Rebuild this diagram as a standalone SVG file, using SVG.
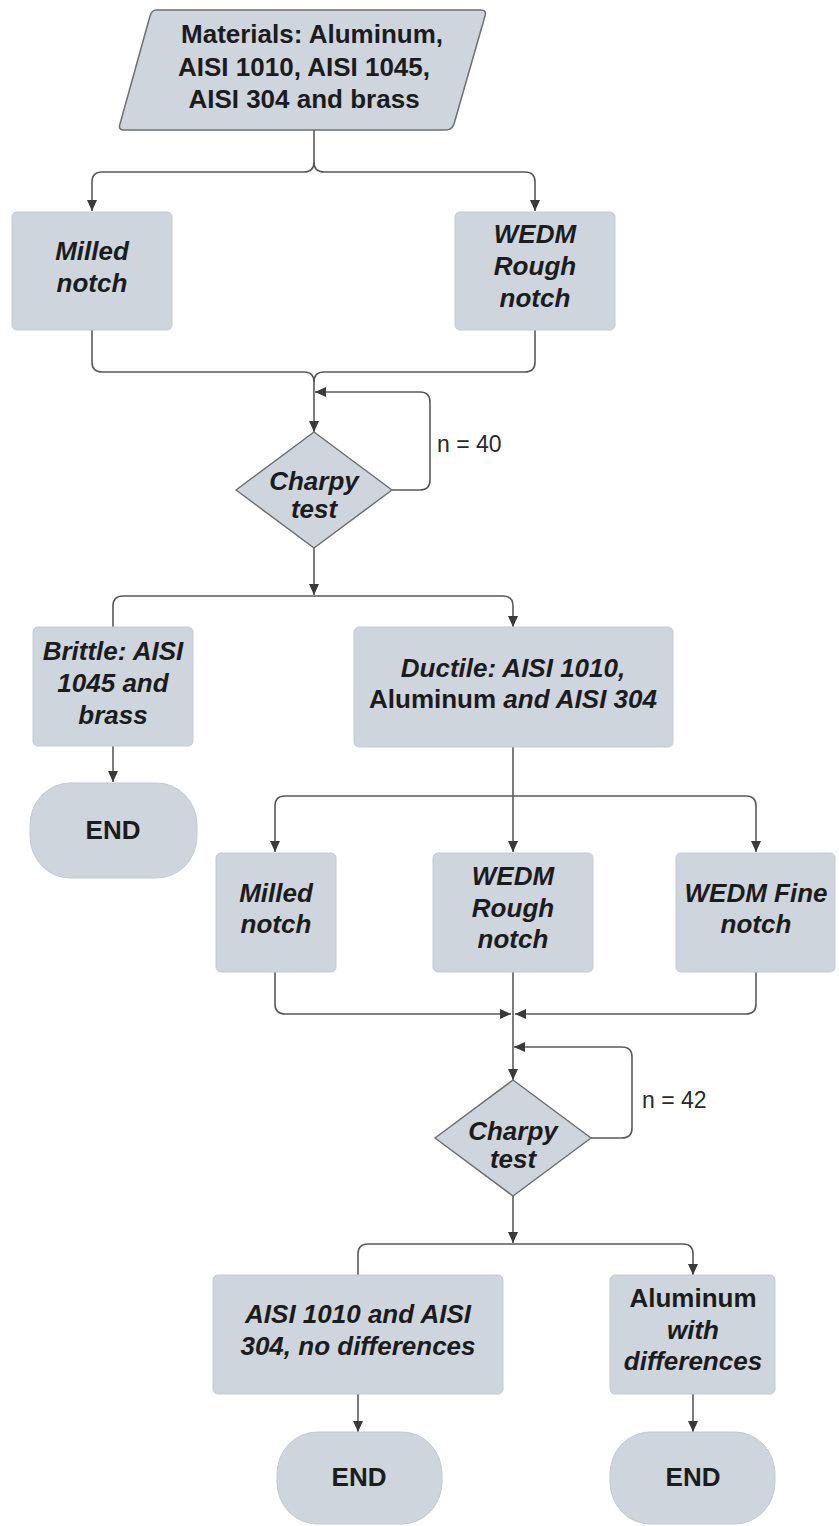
<svg xmlns="http://www.w3.org/2000/svg" width="839" height="1526" viewBox="0 0 839 1526">
<style>
.n{fill:#cfd5dd;stroke:#c4cad3;stroke-width:1}
.ol{fill:#cfd5dd;stroke:#6f6f6f;stroke-width:1.5}
.t{font-family:"Liberation Sans",Arial,sans-serif;font-size:26px;font-weight:bold;fill:#1c1c1c;text-anchor:middle}
.i{font-style:italic}
.u{font-style:normal}
.lab{font-family:"Liberation Sans",Arial,sans-serif;font-size:23px;fill:#2a2a2a}
.c{fill:none;stroke:#5a5a5a;stroke-width:1.6}
</style>
<defs>
<marker id="ah" markerUnits="userSpaceOnUse" markerWidth="11" markerHeight="10" refX="11" refY="5" orient="auto">
<path d="M0,0 L11,5 L0,10 z" fill="#3a3a3a"/>
</marker>
</defs>
<rect width="839" height="1526" fill="#ffffff"/>

<g id="connectors">
<path class="c" d="M314 130 V162 Q314 172 304 172 H102 Q92 172 92 182 V211" marker-end="url(#ah)"/>
<path class="c" d="M314 162 Q314 172 324 172 H525 Q535 172 535 182 V211" marker-end="url(#ah)"/>
<path class="c" d="M92 330 V362 Q92 372 102 372 H304 Q314 372 314 382 V432" marker-end="url(#ah)"/>
<path class="c" d="M535 330 V362 Q535 372 525 372 H324 Q314 372 314 382"/>
<path class="c" d="M392 490 H420 Q430 490 430 480 V402 Q430 392 420 392 H315" marker-end="url(#ah)"/>
<path class="c" d="M314 548 V595" marker-end="url(#ah)"/>
<path class="c" d="M113 627 V606 Q113 596 123 596 H503 Q513 596 513 606 V627" marker-end="url(#ah)"/>
<path class="c" d="M113 746 V782" marker-end="url(#ah)"/>
<path class="c" d="M513 747 V852" marker-end="url(#ah)"/>
<path class="c" d="M513 796 H285 Q275 796 275 806 V852" marker-end="url(#ah)"/>
<path class="c" d="M513 796 H746 Q756 796 756 806 V852" marker-end="url(#ah)"/>
<path class="c" d="M275 972 V1004 Q275 1014 285 1014 H511" marker-end="url(#ah)"/>
<path class="c" d="M756 972 V1004 Q756 1014 746 1014 H515" marker-end="url(#ah)"/>
<path class="c" d="M513 972 V1080" marker-end="url(#ah)"/>
<path class="c" d="M591 1138 H622 Q632 1138 632 1128 V1057 Q632 1047 622 1047 H514" marker-end="url(#ah)"/>
<path class="c" d="M513 1196 V1243" marker-end="url(#ah)"/>
<path class="c" d="M358 1275 V1254 Q358 1244 368 1244 H683 Q693 1244 693 1254 V1275" marker-end="url(#ah)"/>
<path class="c" d="M358 1394 V1432" marker-end="url(#ah)"/>
<path class="c" d="M693 1394 V1432" marker-end="url(#ah)"/>
</g>

<g id="materials">
<path class="ol" d="M156 10 H481 Q487 10 485 16 L454 124 Q452 130 446 130 H124 Q118 130 120 124 L150 16 Q152 10 156 10 Z"/>
<text class="t" x="312" y="43">Materials: Aluminum,</text>
<text class="t" x="304" y="76">AISI 1010, AISI 1045,</text>
<text class="t" x="304" y="108">AISI 304 and brass</text>
</g>

<g id="milled1">
<rect class="n" x="12" y="212" width="160" height="118" rx="5"/>
<text class="t i" x="92" y="260">Milled</text>
<text class="t i" x="92" y="292">notch</text>
</g>

<g id="wedm-rough1">
<rect class="n" x="455" y="212" width="160" height="118" rx="5"/>
<text class="t i" x="535" y="243">WEDM</text>
<text class="t i" x="535" y="275">Rough</text>
<text class="t i" x="535" y="307">notch</text>
</g>

<g id="charpy1">
<path class="ol" d="M314 432 L392 490 L314 548 L236 490 Z" stroke-linejoin="round"/>
<text class="t i" x="314" y="490">Charpy</text>
<text class="t i" x="314" y="518">test</text>
</g>
<text id="n40" class="lab" x="437" y="452">n = 40</text>

<g id="brittle">
<rect class="n" x="33" y="627" width="160" height="119" rx="5"/>
<text class="t i" x="113" y="660">Brittle: AISI</text>
<text class="t i" x="113" y="692">1045 and</text>
<text class="t i" x="113" y="724">brass</text>
</g>

<g id="end1">
<rect class="n" x="30" y="783" width="167" height="95" rx="40" ry="42"/>
<text class="t" x="113" y="839">END</text>
</g>

<g id="ductile">
<rect class="n" x="354" y="627" width="319" height="120" rx="5"/>
<text class="t i" x="513" y="677">Ductile: AISI 1010,</text>
<text class="t" x="513" y="708"><tspan class="u">Aluminum</tspan><tspan class="i"> and AISI 304</tspan></text>
</g>

<g id="milled2">
<rect class="n" x="216" y="853" width="120" height="119" rx="5"/>
<text class="t i" x="276" y="902">Milled</text>
<text class="t i" x="276" y="933">notch</text>
</g>

<g id="wedm-rough2">
<rect class="n" x="433" y="853" width="160" height="119" rx="5"/>
<text class="t i" x="513" y="885">WEDM</text>
<text class="t i" x="513" y="917">Rough</text>
<text class="t i" x="513" y="948">notch</text>
</g>

<g id="wedm-fine">
<rect class="n" x="676" y="853" width="159" height="119" rx="5"/>
<text class="t i" x="756" y="902">WEDM Fine</text>
<text class="t i" x="756" y="933">notch</text>
</g>

<g id="charpy2">
<path class="ol" d="M513 1080 L591 1138 L513 1196 L435 1138 Z" stroke-linejoin="round"/>
<text class="t i" x="513" y="1140">Charpy</text>
<text class="t i" x="513" y="1168">test</text>
</g>
<text id="n42" class="lab" x="642" y="1108">n = 42</text>

<g id="no-diff">
<rect class="n" x="213" y="1275" width="290" height="119" rx="5"/>
<text class="t i" x="358" y="1323">AISI 1010 and AISI</text>
<text class="t i" x="358" y="1355">304, no differences</text>
</g>

<g id="with-diff">
<rect class="n" x="610" y="1275" width="165" height="119" rx="5"/>
<text class="t" x="693" y="1307">Aluminum</text>
<text class="t i" x="693" y="1339">with</text>
<text class="t i" x="693" y="1370">differences</text>
</g>

<g id="end2">
<rect class="n" x="277" y="1432" width="165" height="92" rx="40" ry="42"/>
<text class="t" x="359" y="1486">END</text>
</g>

<g id="end3">
<rect class="n" x="610" y="1432" width="165" height="92" rx="40" ry="42"/>
<text class="t" x="693" y="1486">END</text>
</g>
</svg>
